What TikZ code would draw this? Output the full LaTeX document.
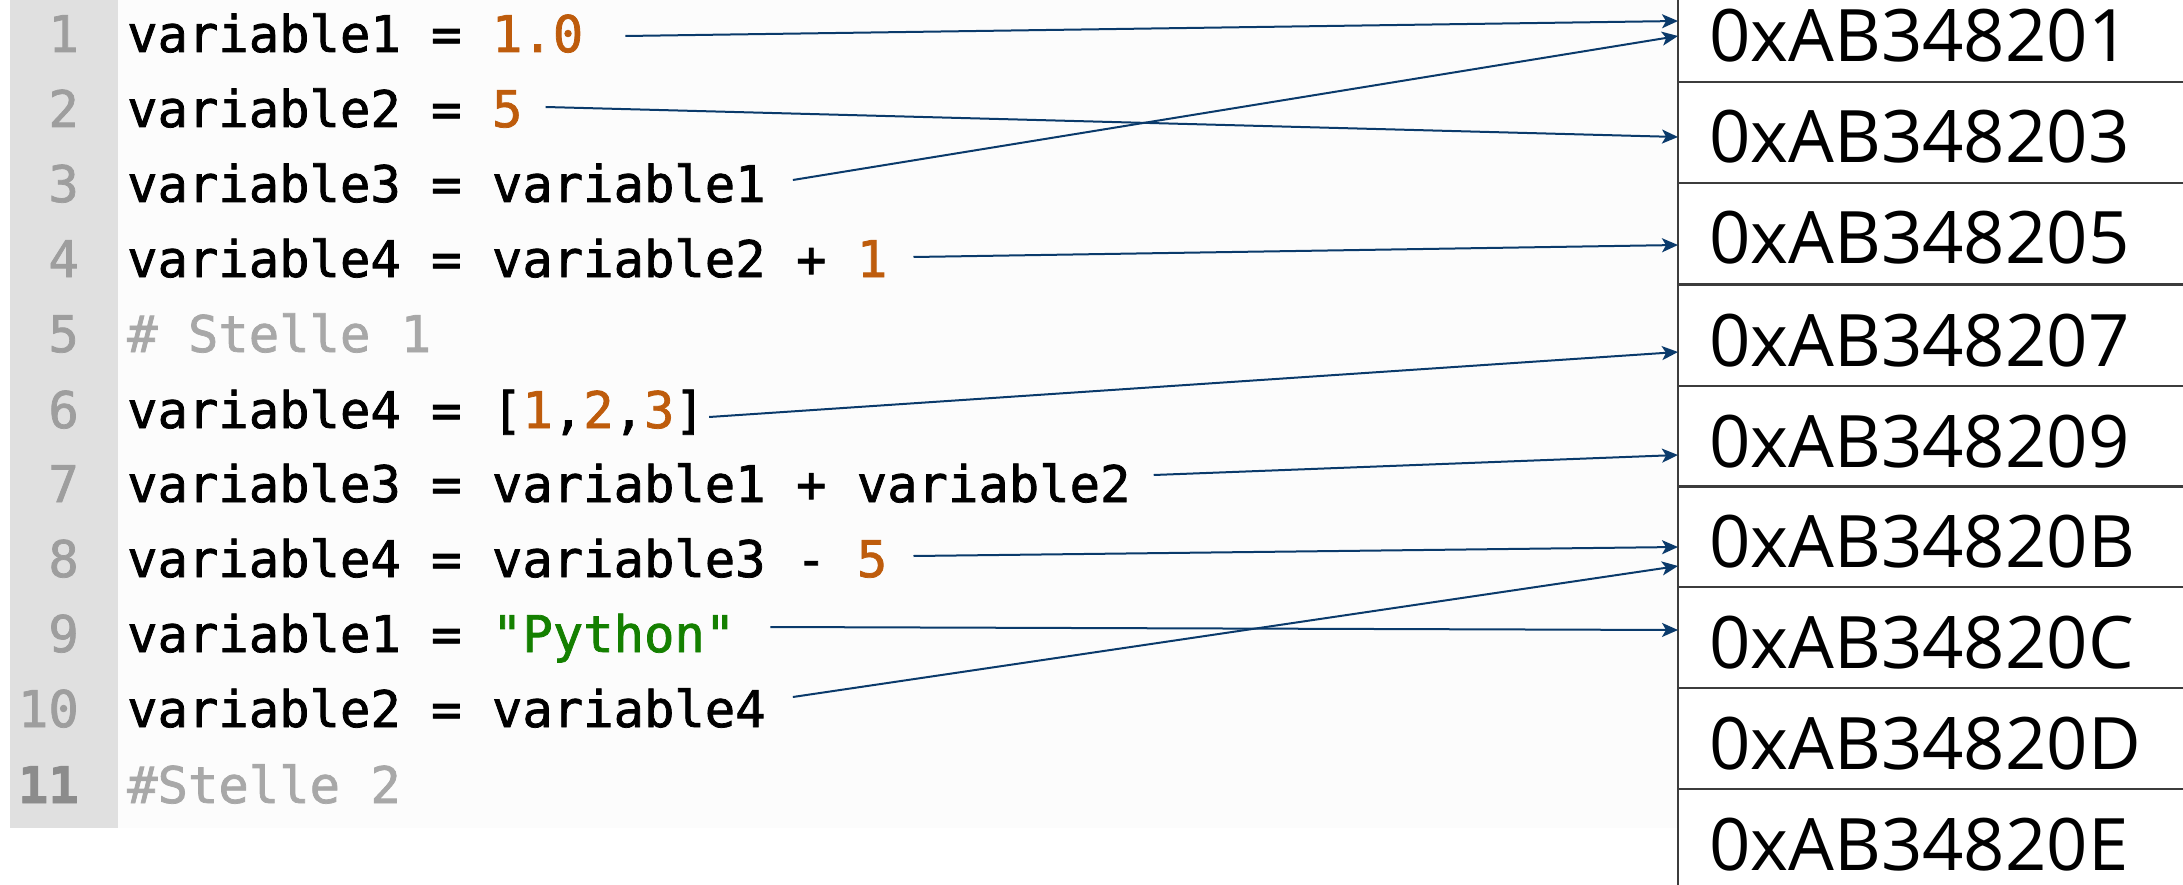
\documentclass[tikz,border=0pt]{standalone}
\usepackage{fontspec}
\usepackage{tikz}
\usetikzlibrary{arrows.meta}
\setmonofont[FakeBold=1.5]{DejaVu Sans Mono}
\newfontfamily\memfont{Open Sans}

\definecolor{navy}{RGB}{10,58,107}
\definecolor{numorange}{RGB}{190,92,12}
\definecolor{strgreen}{RGB}{20,128,0}
\definecolor{commentgray}{RGB}{168,168,168}
\definecolor{numgray}{RGB}{158,158,158}
\definecolor{guttergray}{RGB}{224,224,224}
\definecolor{panewhite}{RGB}{252,252,252}
\definecolor{cellline}{RGB}{60,60,60}

\newcommand{\nm}[1]{\textcolor{numorange}{#1}}

\begin{document}
\begin{tikzpicture}[x=1pt, y=-1pt,
    code/.style={anchor=base west, inner sep=0pt, font=\ttfamily\fontsize{50.5}{60}\selectfont},
    lnum/.style={anchor=base east, inner sep=0pt, text=numgray, font=\ttfamily\fontsize{50.5}{60}\selectfont},
    cell/.style={draw=cellline, line width=2.5pt, anchor=north west, outer sep=0pt,
        minimum height=101pt, text width=560pt, align=left, inner xsep=31pt, inner ysep=0pt,
        text height=61pt, text depth=0pt, font=\memfont\fontsize{72.4}{80}\selectfont},
    ptr/.style={draw=navy, line width=2pt, -{Stealth[length=16pt, width=14pt, inset=4pt]}}]
    \useasboundingbox (0,0) rectangle (2183,885);

    % Editor background
    \fill[guttergray] (10,0) rectangle (118,828);
    \fill[panewhite] (118,0) rectangle (1678,828);

    % Line numbers
    \node[lnum] (n1) at (79,52) {1};
    \node[lnum] (n2) at (79,127) {2};
    \node[lnum] (n3) at (79,202) {3};
    \node[lnum] (n4) at (79,277) {4};
    \node[lnum] (n5) at (79,352) {5};
    \node[lnum] (n6) at (79,428) {6};
    \node[lnum] (n7) at (79,502) {7};
    \node[lnum] (n8) at (79,577) {8};
    \node[lnum] (n9) at (79,652) {9};
    \node[lnum] (n10) at (79,727) {10};
    \node[lnum, font=\ttfamily\bfseries\fontsize{50.5}{60}\selectfont, text=black!45] (n11) at (79,803) {11};

    % Code lines
    \node[code] (c1) at (127,52) {variable1 = \nm{1.0}};
    \node[code] (c2) at (127,127) {variable2 = \nm{5}};
    \node[code] (c3) at (127,202) {variable3 = variable1};
    \node[code] (c4) at (127,277) {variable4 = variable2 + \nm{1}};
    \node[code, text=commentgray] (c5) at (127,352) {\# Stelle 1};
    \node[code] (c6) at (127,428) {variable4 = [\nm{1},\nm{2},\nm{3}]};
    \node[code] (c7) at (127,502) {variable3 = variable1 + variable2};
    \node[code] (c8) at (127,577) {variable4 = variable3 - \nm{5}};
    \node[code] (c9) at (127,652) {variable1 = \textcolor{strgreen}{"Python"}};
    \node[code] (c10) at (127,727) {variable2 = variable4};
    \node[code, text=commentgray] (c11) at (127,803) {\#Stelle 2};

    % Memory cells
    \node[cell] (m1) at (1678,-19) {0xAB348201};
    \node[cell] (m2) at (1678,82) {0xAB348203};
    \node[cell] (m3) at (1678,183) {0xAB348205};
    \node[cell] (m4) at (1678,285) {0xAB348207};
    \node[cell] (m5) at (1678,386) {0xAB348209};
    \node[cell] (m6) at (1678,486) {0xAB34820B};
    \node[cell] (m7) at (1678,587) {0xAB34820C};
    \node[cell] (m8) at (1678,688) {0xAB34820D};
    \node[cell] (m9) at (1678,789) {0xAB34820E};

    % References
    \draw[ptr] ([xshift=42pt, yshift=16pt]c1.base east) -- ([yshift=10.5pt]m1.west);
    \draw[ptr] ([xshift=23pt, yshift=20pt]c2.base east) -- ([yshift=-4.5pt]m2.west);
    \draw[ptr] ([xshift=27pt, yshift=22pt]c3.base east) -- ([yshift=-4.5pt]m1.west);
    \draw[ptr] ([xshift=26pt, yshift=20pt]c4.base east) -- ([yshift=-11.5pt]m3.west);
    \draw[ptr] ([xshift=4pt, yshift=11pt]c6.base east) -- ([yshift=-16.5pt]m4.west);
    \draw[ptr] ([xshift=23pt, yshift=27pt]c7.base east) -- ([yshift=-18.5pt]m5.west);
    \draw[ptr] ([xshift=26pt, yshift=21pt]c8.base east) -- ([yshift=-10.5pt]m6.west);
    \draw[ptr] ([xshift=35pt, yshift=25pt]c9.base east) -- ([yshift=7.5pt]m7.west);
    \draw[ptr] ([xshift=27pt, yshift=30pt]c10.base east) -- ([yshift=-29.5pt]m6.west);
\end{tikzpicture}
\end{document}
